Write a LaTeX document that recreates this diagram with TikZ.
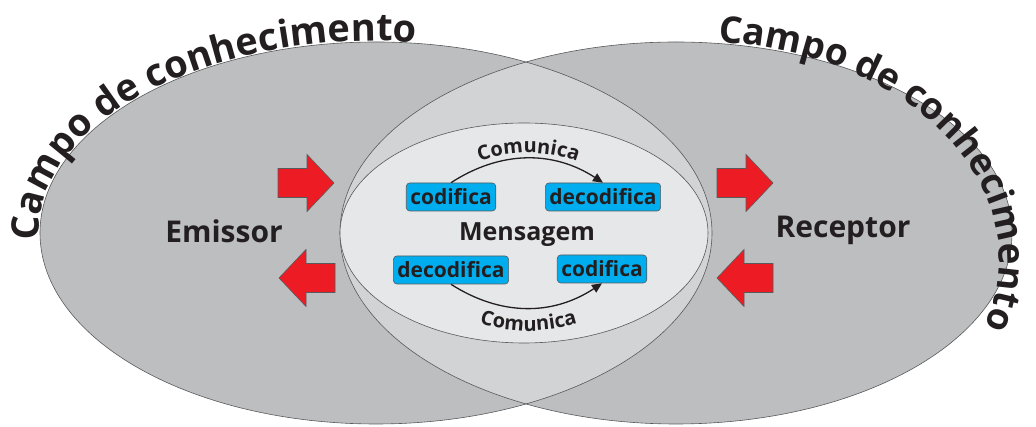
\documentclass[tikz,border=0pt]{standalone}
\usepackage{fontspec}
\setmainfont{Open Sans}
\usetikzlibrary{decorations.text,arrows.meta}
\definecolor{outg}{HTML}{BCBEC0}
\definecolor{lensg}{HTML}{D1D3D4}
\definecolor{inng}{HTML}{E6E7E8}
\definecolor{edgeg}{HTML}{58595B}
\definecolor{boxblue}{HTML}{00AEEF}
\definecolor{arrred}{HTML}{ED1C24}
\definecolor{txt}{HTML}{231F20}
\begin{document}
\begin{tikzpicture}[x=1pt,y=1pt,
  outline/.style={draw=edgeg,line width=0.6pt},
  bluebox/.style={fill=boxblue,draw=edgeg,line width=0.6pt,rounded corners=3.5pt,
    inner xsep=4pt,inner ysep=0pt,minimum height=28pt,text=txt,
    font=\bfseries\fontsize{21}{24}\selectfont},
  biglabel/.style={text=txt,font=\bfseries\fontsize{30}{33}\selectfont,anchor=base},
  redarr/.style={fill=arrred,draw=edgeg,line width=0.6pt},
  flow/.style={draw=txt,line width=1.3pt,-{Triangle[length=10pt,width=9pt]}}
]
\useasboundingbox (0,0) rectangle (1036,427);
% outer ellipses
\fill[outg] (376,194) ellipse[x radius=336,y radius=191];
\fill[outg] (676,194) ellipse[x radius=336,y radius=191];
\begin{scope}
  \clip (376,194) ellipse[x radius=336,y radius=191];
  \fill[lensg] (676,194) ellipse[x radius=336,y radius=191];
\end{scope}
\draw[outline] (376,194) ellipse[x radius=336,y radius=191];
\draw[outline] (676,194) ellipse[x radius=336,y radius=191];
% inner ellipse
\draw[outline,fill=inng] (524,194) ellipse[x radius=184,y radius=110];

% curved titles
\path[decorate,decoration={text along path,text align=center,raise=1pt,
  text={|\color{txt}\bfseries\fontsize{38}{40}\selectfont|Campo de conhecimento}}]
  (376,194) ++(186:336 and 191) arc[start angle=186,end angle=81,x radius=336,y radius=191];
\path[decorate,decoration={text along path,text align=center,raise=1pt,
  text={|\color{txt}\bfseries\fontsize{37}{40}\selectfont|Campo de conhecimento}}]
  (700,167) ++(89:298 and 217) arc[start angle=89,end angle=-21,x radius=298,y radius=217];

% labels
\node[biglabel] (emissor) at (224,184) {Emissor};
\node[biglabel] (receptor) at (843,189) {Receptor};
\node[text=txt,font=\bfseries\fontsize{25}{28}\selectfont,anchor=base] (mensagem) at (527,186) {Mensagem};

% blue boxes
\node[bluebox] (cod1) at (451,230) {codifica};
\node[bluebox] (dec1) at (603,230) {decodifica};
\node[bluebox] (dec2) at (451,157) {decodifica};
\node[bluebox] (cod2) at (602,158) {codifica};

% comunica arrows
\draw[flow] (cod1.north) to[bend left=33] (dec1.north);
\draw[flow] (dec2.south) to[bend right=33] (cod2.south);
\path[decorate,decoration={text along path,text align=center,
  text={|\color{txt}\bfseries\fontsize{20}{22}\selectfont|Comunica}}]
  (528.5,134) ++(125:140) arc[start angle=125,end angle=55,radius=140];
\path[decorate,decoration={text along path,text align=center,
  text={|\color{txt}\bfseries\fontsize{20}{22}\selectfont|Comunica}}]
  (528.5,258) ++(235:162) arc[start angle=235,end angle=305,radius=162];

% red block arrows
\draw[redarr,shift={(334,244)}] (0,0) -- (-27,28.5) -- (-27,14.5) -- (-56,14.5) -- (-56,-14.5) -- (-27,-14.5) -- (-27,-28.5) -- cycle;
\draw[redarr,shift={(773,244)}] (0,0) -- (-27,28.5) -- (-27,14.5) -- (-56,14.5) -- (-56,-14.5) -- (-27,-14.5) -- (-27,-28.5) -- cycle;
\draw[redarr,shift={(279,149)}] (0,0) -- (27,28.5) -- (27,14.5) -- (56,14.5) -- (56,-14.5) -- (27,-14.5) -- (27,-28.5) -- cycle;
\draw[redarr,shift={(717,149)}] (0,0) -- (27,28.5) -- (27,14.5) -- (56,14.5) -- (56,-14.5) -- (27,-14.5) -- (27,-28.5) -- cycle;
\end{tikzpicture}
\end{document}
